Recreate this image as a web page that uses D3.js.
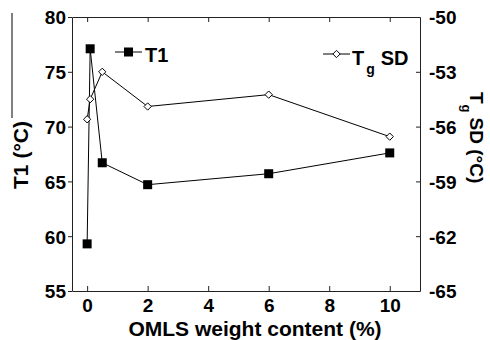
<!DOCTYPE html>
<html>
<head>
<meta charset="utf-8">
<script src="https://cdn.jsdelivr.net/npm/d3@7"></script>
<style>
  html, body { margin: 0; padding: 0; background: #fff; }
  svg { display: block; }
  text { font-family: "Liberation Sans", Arial, sans-serif; font-weight: bold; fill: #000; }
</style>
</head>
<body>
<svg id="chart" width="490" height="340"></svg>
<script>
// OMLS weight content (%)
const omls = [0, 0.1, 0.5, 2, 6, 10];
// T1 (°C), left axis
const t1 = [59.3, 77.1, 66.7, 64.7, 65.7, 67.6];
// Tg SD (°C), right axis
const tgSD = [-55.6, -54.5, -53.0, -54.9, -54.25, -56.55];
// tick values
const xTicks = [0, 2, 4, 6, 8, 10];
const leftTicks = [55, 60, 65, 70, 75, 80];
const rightTicks = [-65, -62, -59, -56, -53, -50];

const svg = d3.select("#chart");
const L = 72, R = 420, T = 17, B = 291;

const x = d3.scaleLinear().domain([-0.5, 11]).range([L, R]);
const yL = d3.scaleLinear().domain([55, 80]).range([B, T]);
const yR = d3.scaleLinear().domain([-65, -50]).range([B, T]);

const fs = 19;
const plain = d => String(d);

// bottom axis, inward ticks
const gB = svg.append("g").attr("transform", `translate(0,${B})`)
  .call(d3.axisBottom(x).tickValues(xTicks).tickFormat(plain)
    .tickSizeInner(-5).tickSizeOuter(0).tickPadding(11));
// top axis, inward ticks, no labels
const gT = svg.append("g").attr("transform", `translate(0,${T})`)
  .call(d3.axisTop(x).tickValues(xTicks).tickSizeInner(-5).tickSizeOuter(0).tickFormat(""));
// left axis, outward ticks
const gL = svg.append("g").attr("transform", `translate(${L},0)`)
  .call(d3.axisLeft(yL).tickValues(leftTicks).tickFormat(plain)
    .tickSizeInner(4).tickSizeOuter(0).tickPadding(2));
// right axis, inward ticks
const gR = svg.append("g").attr("transform", `translate(${R},0)`)
  .call(d3.axisRight(yR).tickValues(rightTicks).tickFormat(plain)
    .tickSizeInner(-4).tickSizeOuter(0).tickPadding(9));

[gB, gT, gL, gR].forEach(g => {
  g.select(".domain").attr("stroke", "#222").attr("stroke-width", 1);
  g.selectAll(".tick line").attr("stroke", "#222").attr("stroke-width", 1);
  g.selectAll(".tick text")
    .attr("font-family", "'Liberation Sans', Arial, sans-serif")
    .attr("font-weight", "bold").attr("font-size", fs).attr("fill", "#000");
});
gB.selectAll(".tick text").attr("dy", "0.55em");
gL.selectAll(".tick text").attr("dy", "0.36em");
gR.selectAll(".tick text").attr("dy", "0.36em");

// data lines
const lineL = d3.line().x((d, i) => x(omls[i])).y(d => yL(d));
const lineR = d3.line().x((d, i) => x(omls[i])).y(d => yR(d));

svg.append("path").datum(t1).attr("d", lineL)
  .attr("fill", "none").attr("stroke", "#000").attr("stroke-width", 1);
svg.append("path").datum(tgSD).attr("d", lineR)
  .attr("fill", "none").attr("stroke", "#000").attr("stroke-width", 1);

const sq = 9;
svg.append("g").selectAll("rect").data(t1).join("rect")
  .attr("x", (d, i) => x(omls[i]) - sq / 2)
  .attr("y", d => yL(d) - sq / 2)
  .attr("width", sq).attr("height", sq).attr("fill", "#000");

const dia = d3.symbol().type(d3.symbolDiamond2).size(34);
svg.append("g").selectAll("path").data(tgSD).join("path")
  .attr("d", dia)
  .attr("transform", (d, i) => `translate(${x(omls[i])},${yR(d)})`)
  .attr("fill", "#fff").attr("stroke", "#000").attr("stroke-width", 1);

// legends
const lg1 = svg.append("g");
lg1.append("line").attr("x1", 115).attr("x2", 142).attr("y1", 52).attr("y2", 52)
  .attr("stroke", "#000").attr("stroke-width", 1);
lg1.append("rect").attr("x", 128.5 - sq / 2).attr("y", 52 - sq / 2)
  .attr("width", sq).attr("height", sq).attr("fill", "#000");
lg1.append("text").attr("x", 145).attr("y", 62).attr("font-size", 20).text("T1");

const lg2 = svg.append("g");
lg2.append("line").attr("x1", 323).attr("x2", 350).attr("y1", 54).attr("y2", 54)
  .attr("stroke", "#000").attr("stroke-width", 1);
lg2.append("path").attr("d", dia).attr("transform", "translate(336.5,54)")
  .attr("fill", "#fff").attr("stroke", "#000").attr("stroke-width", 1);
const lt2 = lg2.append("text").attr("x", 352).attr("y", 65).attr("font-size", 20);
lt2.append("tspan").text("T");
lt2.append("tspan").attr("font-size", 14).attr("dy", 9).attr("dx", 2).text("g");
lt2.append("tspan").attr("dy", -9).attr("dx", 6).text("SD");

// x-axis title
svg.append("text").attr("x", 255).attr("y", 336).attr("text-anchor", "middle")
  .attr("font-size", 21).text("OMLS weight content (%)");

// left axis title and the rule above it
svg.append("text")
  .attr("transform", "translate(28,155) rotate(-90)")
  .attr("text-anchor", "middle").attr("font-size", 21).text("T1 (°C)");
svg.append("line").attr("x1", 12).attr("x2", 12).attr("y1", 13).attr("y2", 118)
  .attr("stroke", "#000").attr("stroke-width", 1);

// right axis title
const rt = svg.append("text").attr("transform", "translate(470,92) rotate(90)")
  .attr("font-size", 19);
rt.append("tspan").text("T");
rt.append("tspan").attr("font-size", 13).attr("dy", 8).attr("dx", 1).text("g");
rt.append("tspan").attr("dy", -8).attr("dx", 5).text("SD (°C)");
</script>
</body>
</html>
